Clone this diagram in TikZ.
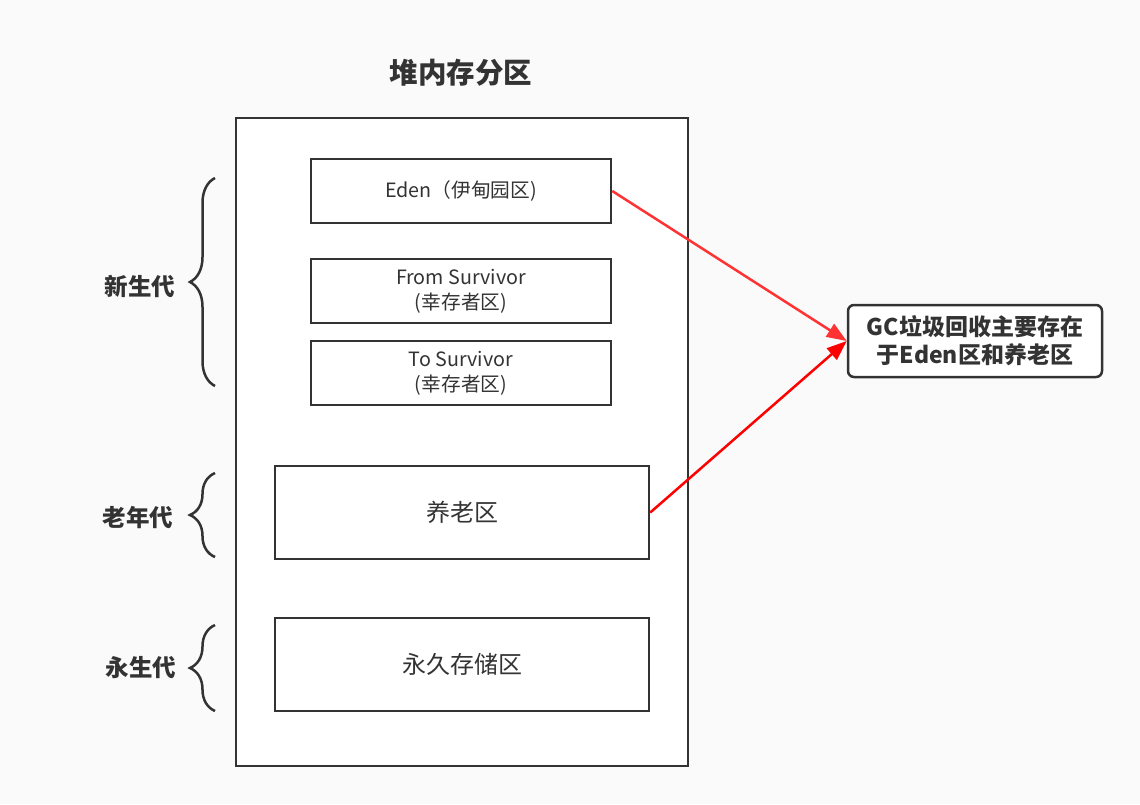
\documentclass[tikz,border=0pt]{standalone}
\usepackage{fontspec}
\setmainfont{Noto Sans CJK SC}
\usetikzlibrary{arrows.meta,decorations.pathreplacing}
\definecolor{bg}{HTML}{FAFAFA}
\definecolor{dk}{HTML}{333333}
\definecolor{ra}{HTML}{FF3333}
\definecolor{rb}{HTML}{FF0000}
\begin{document}
\begin{tikzpicture}[x=1pt,y=-1pt,
  box/.style={draw=dk,line width=2.5pt,fill=white,inner sep=0pt,text=dk,align=center},
  lbl/.style={font=\bfseries\fontsize{23.5}{28}\selectfont,text=dk},
  brc/.style={draw=dk,line width=2.5pt,decorate,decoration={brace,amplitude=25pt}},
  arr/.style={line width=2.5pt,-{Triangle[length=20pt,width=15pt]}}]
\fill[bg] (0,0) rectangle (1140,804);
\useasboundingbox (0,0) rectangle (1140,804);
\node[text=dk,font=\bfseries\fontsize{28.5}{32}\selectfont] (title) at (461,73) {堆内存分区};
\node[box,minimum width=452pt,minimum height=648pt] (heap) at (462,442) {};
\node[box,minimum width=300pt,minimum height=64pt,font=\fontsize{19.7}{25}\selectfont] (eden) at (461,191) {\raisebox{-2pt}{Eden（伊甸园区)}};
\node[box,minimum width=300pt,minimum height=64pt,font=\fontsize{19.7}{25}\selectfont] (from) at (461,291) {From Survivor\\(幸存者区)};
\node[box,minimum width=300pt,minimum height=64pt,font=\fontsize{19.7}{25}\selectfont] (to) at (461,373) {To Survivor\\(幸存者区)};
\node[box,minimum width=374pt,minimum height=93pt,font=\fontsize{24}{28}\selectfont] (old) at (462,512.5) {\raisebox{-2pt}{养老区}};
\node[box,minimum width=374pt,minimum height=93pt,font=\fontsize{24}{28}\selectfont] (perm) at (462,664.5) {\raisebox{-2pt}{永久存储区}};
\node[box,rounded corners=6pt,minimum width=254pt,minimum height=72pt,font=\bfseries\fontsize{23}{28}\selectfont] (gc) at (975,341) {GC垃圾回收主要存在\\于Eden区和养老区};
\coordinate (b1t) at (215,178);
\coordinate (b1b) at (215,386);
\coordinate (b2t) at (215,473);
\coordinate (b2b) at (215,557);
\coordinate (b3t) at (215,625);
\coordinate (b3b) at (215,711);
\draw[brc] (b1b) -- (b1t);
\draw[brc] (b2b) -- (b2t);
\draw[brc] (b3b) -- (b3t);
\node[lbl] (young) at (140,286) {新生代};
\node[lbl] (oldg) at (138,518) {老年代};
\node[lbl] (permg) at (141,668) {永生代};
\draw[arr,draw=ra,fill=ra] (eden.east) -- (gc.west);
\draw[arr,draw=rb,fill=rb] (old.east) -- (gc.west);
\end{tikzpicture}
\end{document}
